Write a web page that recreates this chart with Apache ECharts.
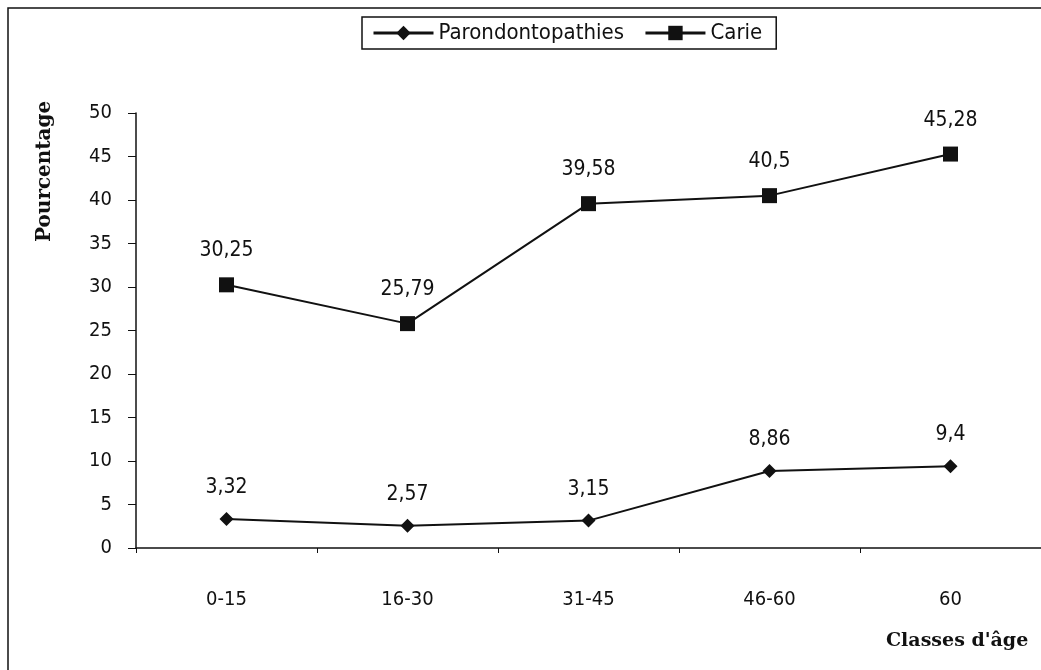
<!DOCTYPE html>
<html><head><meta charset="utf-8">
<script src="https://cdn.jsdelivr.net/npm/echarts@6/dist/echarts.min.js"></script>
<style>html,body{margin:0;padding:0;background:#fff}#c{width:1041px;height:670px}</style>
</head><body><div id="c"></div>
<script>
const categories = ['0-15', '16-30', '31-45', '46-60', '60'];
const parondontopathies = [3.32, 2.57, 3.15, 8.86, 9.4];
const carie = [30.25, 25.79, 39.58, 40.5, 45.28];
const seriesNames = ['Parondontopathies', 'Carie'];
const yTitle = 'Pourcentage';
const xTitle = "Classes d'âge";

const font = '"Liberation Sans Narrow", "DejaVu Sans Condensed", sans-serif';
const fmt = p => String(p.value).replace('.', ',');
const chart = echarts.init(document.getElementById('c'));
chart.setOption({
  animation: false,
  backgroundColor: '#fff',
  textStyle: { fontFamily: font, color: '#111' },
  grid: { left: 136, right: 0, top: 113, bottom: 122 },
  legend: {
    top: 17, left: 362,
    itemWidth: 60, itemHeight: 18, itemGap: 20,
    padding: [5, 14, 5, 10],
    borderColor: '#111', borderWidth: 1.5,
    lineStyle: { width: 3 },
    textStyle: { fontFamily: font, fontSize: 22, color: '#111' },
    data: seriesNames
  },
  graphic: [
    { type: 'rect', shape: { x: 8, y: 8, width: 1100, height: 700 }, style: { fill: 'none', stroke: '#111', lineWidth: 1.5 }, silent: true },
    { type: 'text', left: 886, top: 632, style: { text: xTitle, font: 'bold 19px "DejaVu Serif", serif', fill: '#111' } },
    { type: 'text', rotation: Math.PI / 2, x: 45, y: 242, style: { text: yTitle, font: 'bold 20px "DejaVu Serif", serif', fill: '#111', align: 'left', verticalAlign: 'middle' } }
  ],
  xAxis: {
    type: 'category', data: categories, boundaryGap: true,
    axisLine: { lineStyle: { color: '#111', width: 1.5 } },
    axisTick: { show: true, length: 5, lineStyle: { color: '#111' } },
    axisLabel: { fontFamily: font, fontSize: 20, color: '#111', margin: 42 }
  },
  yAxis: {
    type: 'value', min: 0, max: 50, interval: 5,
    axisLine: { show: true, lineStyle: { color: '#111', width: 1.5 } },
    axisTick: { show: true, length: 8, lineStyle: { color: '#111' } },
    splitLine: { show: false },
    axisLabel: { fontFamily: font, fontSize: 20, color: '#111', margin: 24 }
  },
  series: [
    {
      name: seriesNames[0], type: 'line', data: parondontopathies,
      symbol: 'diamond', symbolSize: 14,
      lineStyle: { color: '#111', width: 2 }, itemStyle: { color: '#111' },
      label: { show: true, position: 'top', distance: 14, formatter: fmt, fontFamily: font, fontSize: 21, color: '#111' }
    },
    {
      name: seriesNames[1], type: 'line', data: carie,
      symbol: 'rect', symbolSize: 15,
      lineStyle: { color: '#111', width: 2 }, itemStyle: { color: '#111' },
      label: { show: true, position: 'top', distance: 16, formatter: fmt, fontFamily: font, fontSize: 21, color: '#111' }
    }
  ]
});
</script></body></html>
